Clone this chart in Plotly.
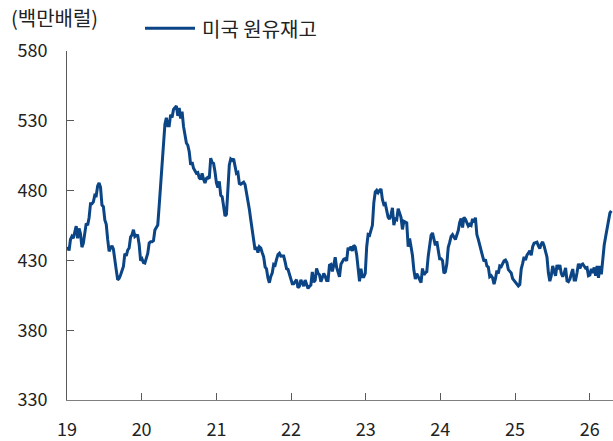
import plotly.graph_objects as go
import pandas as pd

# US commercial crude oil inventories, weekly (million barrels)
stock_2019 = [439.7, 437.1, 445.0, 447.2,
              445.9, 450.8, 454.5, 445.9,
              452.9, 449.1, 439.5, 442.3, 449.5,
              456.5, 455.2, 460.6, 470.6,
              470.6, 472.0, 476.8, 476.5, 483.3,
              485.5, 482.4, 469.6, 468.5,
              459.0, 455.9, 445.0, 436.5,
              438.9, 440.5, 438.0, 428.0, 423.0,
              416.1, 417.1, 419.5, 422.6,
              425.6, 434.9, 433.2, 437.4,
              438.9, 446.8, 448.2, 452.0, 447.1,
              447.9, 447.8, 441.4, 429.9]

stock_2020 = [431.1, 428.5, 428.1, 431.7, 435.0,
              442.5, 443.3, 443.3, 444.1,
              451.8, 453.7, 455.4, 469.2,
              484.4, 503.6, 518.6, 527.6,
              532.2, 526.5, 526.5, 534.4, 532.3,
              538.1, 539.3, 540.7, 533.5,
              539.2, 531.7, 536.6, 526.0, 518.6,
              514.1, 512.5, 507.8, 498.4,
              500.4, 496.0, 494.4, 492.4,
              492.9, 489.1, 488.1, 492.4, 488.1,
              485.5, 488.7, 489.5, 488.7,
              503.2, 500.1, 499.5, 493.5]

stock_2021 = [485.5, 482.2, 486.6, 476.7, 475.7,
              469.0, 461.8, 463.0, 484.6,
              498.4, 502.7, 501.8, 502.7,
              498.3, 492.4, 493.0, 485.1, 484.6,
              485.1, 486.0, 484.3, 479.3,
              474.0, 466.7, 459.1, 452.3,
              445.5, 437.6, 439.7, 435.6, 439.7,
              438.8, 435.5, 432.6, 425.4,
              423.9, 417.4, 414.0, 418.5,
              420.9, 427.1, 426.5, 430.8, 434.1,
              435.1, 433.0, 433.1, 433.1,
              428.9, 424.1, 423.6, 420.0, 417.9]

stock_2022 = [413.3, 413.3, 415.1, 416.2,
              410.4, 411.5, 416.0, 413.4,
              411.6, 415.9, 413.4, 409.9,
              411.4, 412.4, 421.8, 414.4, 415.7,
              424.2, 420.8, 419.8, 414.7,
              418.7, 420.6, 418.7, 415.6,
              415.6, 426.6, 427.1, 422.1, 426.6,
              432.2, 425.0, 421.7, 418.3,
              427.2, 429.6, 430.8, 431.2, 429.6,
              439.1, 437.4, 439.9, 436.8,
              440.8, 439.7, 434.1, 421.7,
              415.0, 424.1, 418.2, 418.2, 420.6]

stock_2023 = [439.6, 448.5, 448.0, 452.7,
              455.1, 471.4, 479.0, 480.2,
              478.5, 480.1, 481.2, 473.7, 470.0,
              470.6, 466.0, 460.9, 459.6,
              462.6, 467.6, 455.2, 459.7,
              459.2, 467.1, 463.3, 460.9, 452.2,
              458.0, 457.4, 456.8, 439.8,
              445.7, 439.7, 433.5, 422.9,
              416.6, 420.6, 418.5, 416.3, 414.1,
              424.2, 419.7, 421.1, 421.9,
              432.9, 440.0, 448.0, 449.7,
              445.0, 440.8, 443.7, 437.4, 431.1]

stock_2024 = [431.1, 429.9, 420.7, 421.9,
              427.4, 439.4, 442.9, 447.2,
              448.5, 447.0, 445.0, 448.2, 451.4,
              457.3, 460.0, 453.6, 460.9,
              459.5, 457.0, 454.7, 455.9, 455.1,
              459.7, 457.1, 460.7, 448.5,
              445.1, 440.2, 436.5, 433.0,
              429.3, 430.7, 426.0, 425.2, 418.3,
              419.1, 417.5, 413.0, 416.9,
              422.7, 420.6, 426.0, 425.5,
              427.7, 429.7, 430.3, 428.4, 423.4,
              422.0, 421.0, 416.9, 415.6]

stock_2025 = [414.6, 412.7, 411.7, 412.7, 423.8,
              427.9, 432.5, 430.2, 433.8,
              435.2, 437.0, 433.6, 439.8,
              442.3, 442.9, 443.1, 440.4,
              438.4, 441.8, 443.2, 440.4, 436.1,
              432.4, 420.9, 415.1, 419.0,
              426.0, 422.2, 419.0, 426.7,
              423.7, 426.7, 420.7, 418.3, 420.7,
              424.6, 415.4, 414.8, 416.5,
              420.3, 423.8, 416.0, 416.0, 421.2,
              427.6, 424.2, 426.9, 427.5,
              425.7, 424.4, 424.8, 419.0]

stock_2026 = [419.5, 424.0, 421.0, 425.0, 419.0,
              426.0, 417.5, 426.0, 420.0,
              432.0, 441.0, 447.0, 452.0,
              459.0, 464.0, 465.5]

stock = (stock_2019 + stock_2020 + stock_2021 + stock_2022
         + stock_2023 + stock_2024 + stock_2025 + stock_2026)
weeks = pd.date_range("2019-01-04", periods=len(stock), freq="W-FRI")

y_ticks = [330, 380, 430, 480, 530, 580]
years = list(range(2019, 2027))

font_family = "Noto Sans CJK KR, Noto Sans, sans-serif"
line_color = "#0b4586"
text_color = "#222222"

fig = go.Figure()

fig.add_trace(go.Scatter(x=weeks, y=stock, mode="lines", name="미국 원유재고",
                         line=dict(color=line_color, width=3),
                         showlegend=False))

fig.update_layout(
    width=613, height=441,
    margin=dict(l=67, r=0, t=51, b=39),
    paper_bgcolor="white",
    plot_bgcolor="white",
    font=dict(family=font_family, size=18, color=text_color),
    xaxis=dict(
        range=["2019-01-01", "2026-04-25"],
        tickmode="array",
        tickvals=[f"{yr}-01-01" for yr in years],
        ticktext=[str(yr)[2:] for yr in years],
        ticks="inside", ticklen=7, tickcolor="#595959",
        showline=True, linecolor="#7f7f7f", linewidth=1,
        showgrid=False, zeroline=False,
        ticklabelstandoff=13,
        tickfont=dict(size=18),
    ),
    yaxis=dict(
        range=[330, 580],
        tickvals=y_ticks,
        ticks="inside", ticklen=7, tickcolor="#595959",
        showline=True, linecolor="#595959", linewidth=1,
        showgrid=False, zeroline=False,
        ticklabelstandoff=15,
        tickfont=dict(size=18),
    ),
)

# unit label
fig.add_annotation(text="(백만배럴)", xref="paper", yref="paper",
                   x=-0.1062, y=1.0969, xanchor="left", yanchor="middle",
                   showarrow=False, font=dict(size=20, color=text_color))

# legend: line sample + name
fig.add_shape(type="line", xref="paper", yref="paper",
              x0=0.1429, x1=0.2344, y0=1.0655, y1=1.0655,
              line=dict(color=line_color, width=3))
fig.add_annotation(text="미국 원유재고", xref="paper", yref="paper",
                   x=0.2436, y=1.0655, xanchor="left", yanchor="middle",
                   showarrow=False, font=dict(size=20, color=text_color))

# drop the default page margin so the figure fills the window exactly
fig.write_html("out.html", config={"displayModeBar": False},
               post_script="document.body.style.margin='0';")
